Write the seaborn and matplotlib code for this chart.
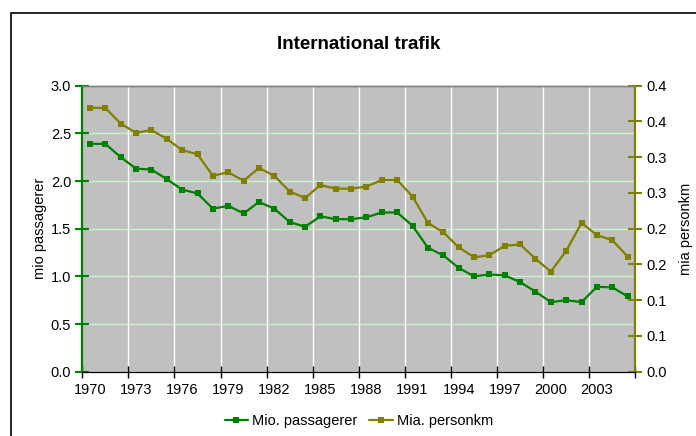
import matplotlib
matplotlib.use("Agg")
import matplotlib.pyplot as plt
import seaborn as sns
import pandas as pd
import numpy as np
from matplotlib.patches import Rectangle

years = list(range(1970, 2006))
mio_passagerer = [2.39, 2.39, 2.25, 2.13, 2.12, 2.02, 1.91, 1.87, 1.71, 1.74,
                  1.66, 1.78, 1.71, 1.57, 1.52, 1.63, 1.60, 1.60, 1.62, 1.67,
                  1.67, 1.53, 1.30, 1.22, 1.09, 1.00, 1.02, 1.01, 0.94, 0.84,
                  0.73, 0.75, 0.73, 0.89, 0.885, 0.79]
mia_personkm = [0.369, 0.369, 0.347, 0.334, 0.338, 0.3255, 0.310, 0.304, 0.274, 0.279,
                0.267, 0.285, 0.274, 0.252, 0.243, 0.261, 0.256, 0.256, 0.259, 0.268,
                0.268, 0.245, 0.208, 0.195, 0.174, 0.160, 0.163, 0.176, 0.178, 0.158,
                0.140, 0.169, 0.208, 0.191, 0.184, 0.161]
x_tick_labels = [str(y) for y in years[::3]]
left_ticks = [0.0, 0.5, 1.0, 1.5, 2.0, 2.5, 3.0]
left_tick_labels = ["0.0", "0.5", "1.0", "1.5", "2.0", "2.5", "3.0"]
right_ticks = [0.0, 0.05, 0.1, 0.15, 0.2, 0.25, 0.3, 0.35, 0.4]
right_tick_labels = ["0.0", "0.1", "0.1", "0.2", "0.2", "0.3", "0.3", "0.4", "0.4"]
title = "International trafik"
series_names = ["Mio. passagerer", "Mia. personkm"]

sns.set_style("ticks")
plt.rcParams["font.family"] = ["Liberation Sans", "DejaVu Sans"]
plt.rcParams["text.color"] = "black"
plt.rcParams["axes.labelcolor"] = "black"

GREEN = "#008000"
OLIVE = "#808000"

df = pd.DataFrame({"idx": np.arange(len(years)), "year": years,
                   "p": mio_passagerer, "k": mia_personkm})

fig = plt.figure(figsize=(6.96, 4.36), dpi=100)
ax = fig.add_axes([82.3/696, 1-371.7/436, (635.3-82.3)/696, (371.7-85.7)/436])
ax.set_facecolor("#c0c0c0")
ax2 = ax.twinx()

sns.lineplot(data=df, x="idx", y="p", ax=ax, color=GREEN, marker="s",
             markersize=5, markeredgewidth=0, linewidth=1.6, label=series_names[0], legend=False)
sns.lineplot(data=df, x="idx", y="k", ax=ax2, color=OLIVE, marker="s",
             markersize=5, markeredgewidth=0, linewidth=1.6, label=series_names[1], legend=False)

n = len(years)
ax.set_xlim(-0.5, n - 0.5)
ax.set_ylim(0, 3.0)
ax2.set_ylim(0, 0.4)

# x ticks at category boundaries, labels centred on categories
bounds = np.arange(-0.5, n, 3)
ax.set_xticks(bounds)
ax.set_xticklabels([])
ax.set_xticks(np.arange(0, n, 3), minor=True)
ax.set_xticklabels(x_tick_labels, minor=True)
ax.tick_params(axis="x", which="major", direction="inout", length=8, width=1, color="black")
ax.tick_params(axis="x", which="minor", length=0, labelsize=10.5, pad=8, labelcolor="black")

ax.set_yticks(left_ticks)
ax.set_yticklabels(left_tick_labels)
ax.tick_params(axis="y", direction="inout", length=10, width=1.5, color=GREEN,
               labelsize=10.5, pad=3, labelcolor="black")
ax2.set_yticks(right_ticks)
ax2.set_yticklabels(right_tick_labels)
ax2.tick_params(axis="y", direction="inout", length=10, width=1.5, color=OLIVE,
                labelsize=10.5, pad=3, labelcolor="black")

# gridlines
ax.set_axisbelow(True)
for yv in left_ticks[1:-1]:
    ax.axhline(yv, color="#c8f5c8", linewidth=1, zorder=0.5)
for xv in bounds[1:-1]:
    ax.axvline(xv, color="white", linewidth=1, zorder=0.5)

for a in (ax, ax2):
    a.spines["top"].set_color("#808080")
    a.spines["top"].set_linewidth(1)
    a.spines["bottom"].set_color("black")
    a.spines["left"].set_color(GREEN)
    a.spines["left"].set_linewidth(1.5)
    a.spines["right"].set_color(OLIVE)
    a.spines["right"].set_linewidth(1.5)
    a.set_xlabel("")

ax.set_ylabel("mio passagerer", fontsize=10.5, labelpad=3)
ax2.set_ylabel("mia personkm", fontsize=10.5, labelpad=9)

fig.text(359/696, 1-44/436, title, ha="center", va="center", fontsize=13.5, fontweight="bold")

h1, l1 = ax.get_legend_handles_labels()
h2, l2 = ax2.get_legend_handles_labels()
fig.legend(h1 + h2, l1 + l2, loc="center", bbox_to_anchor=(359/696, 1-421/436),
           ncol=2, frameon=False, fontsize=10.5, handlelength=1.6, handletextpad=0.3,
           columnspacing=0.8, borderpad=0)

fig.patches.append(Rectangle((11/696, -0.2), 1.2, 1.2 - 13/436, transform=fig.transFigure,
                             fill=False, edgecolor="black", linewidth=1.2))

fig.savefig("out.png", dpi=100)
